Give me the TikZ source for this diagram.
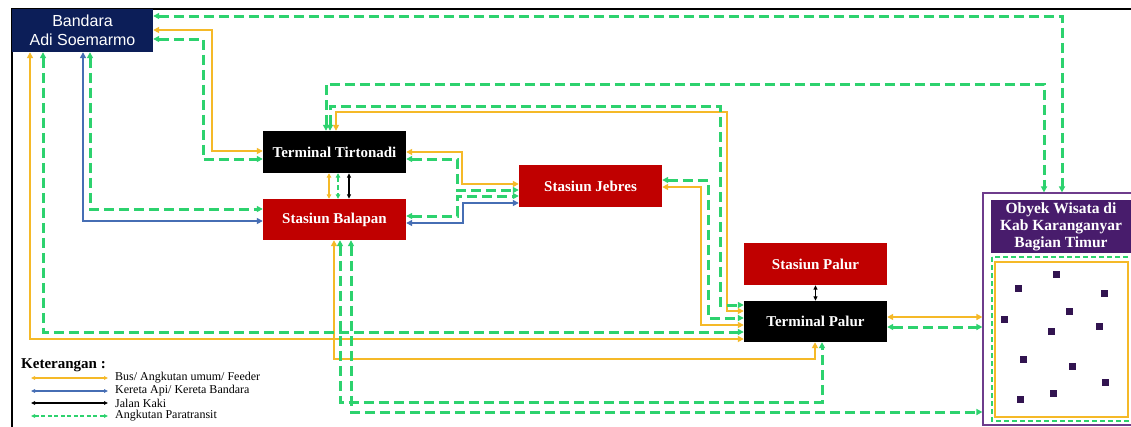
\documentclass[tikz,border=0pt]{standalone}
\usepackage{fontspec}
\setmainfont{Liberation Serif}
\newfontfamily\arialf{Liberation Sans}
\usetikzlibrary{arrows.meta}
\definecolor{yel}{RGB}{245,185,40}
\definecolor{grn}{RGB}{45,210,110}
\definecolor{blu}{RGB}{70,110,180}
\definecolor{navy}{RGB}{12,30,88}
\definecolor{redbox}{RGB}{192,0,0}
\definecolor{purp}{RGB}{72,28,108}
\definecolor{purpedge}{RGB}{110,60,140}
\definecolor{sq}{RGB}{50,20,80}
\begin{document}
\begin{tikzpicture}[x=1pt,y=-1pt,
  >={Triangle[length=6pt,width=6pt]},
  box/.style={minimum width=143pt,minimum height=42pt,inner sep=0pt,text=white,
    font=\fontsize{15}{17}\selectfont\bfseries},
  yl/.style={draw=yel,line width=2.6pt,<->},
  gd/.style={draw=grn,line width=3pt,dash pattern=on 10pt off 5pt,<->},
  bl/.style={draw=blu,line width=2.6pt,<->},
  ylthin/.style={draw=yel,line width=1.6pt,<->,>={Triangle[length=4.5pt,width=4.5pt]}},
  gdthin/.style={draw=grn,line width=1.8pt,dash pattern=on 5pt off 3pt,<->,>={Triangle[length=4.5pt,width=4.5pt]}},
  bk/.style={draw=black,line width=1.3pt,<->,>={Triangle[length=4.5pt,width=4pt]}},
  legtxt/.style={anchor=west,inner sep=0pt,font=\fontsize{12}{12}\selectfont},
  legtip/.style={>={Triangle[length=4pt,width=3.5pt]}}
]
\useasboundingbox (0,0) rectangle (1131,426);
\clip (0,0) rectangle (1131,426);
\fill[white] (0,0) rectangle (1131,426);
\draw[line width=1.8pt] (12,440) -- (12,9) -- (1140,9);

% nodes
\node[fill=navy,minimum width=141pt,minimum height=43pt,inner sep=0pt,text=white,
  font=\arialf\fontsize{16}{19}\selectfont,align=center] (bandara) at (82.5,30.5) {Bandara\\Adi Soemarmo};
\node[box,fill=black] (tirt) at (334.5,152) {Terminal Tirtonadi};
\node[box,fill=redbox,minimum height=41pt] (balapan) at (334.5,219.5) {Stasiun Balapan};
\node[box,fill=redbox] (jebres) at (590.5,186) {Stasiun Jebres};
\node[box,fill=redbox] (spalur) at (815.5,264) {Stasiun Palur};
\node[box,fill=black,minimum height=41pt] (tpalur) at (815.5,321.5) {Terminal Palur};
\node[draw=purpedge,line width=1.2pt,minimum width=150pt,minimum height=232pt,inner sep=0pt] (obyek) at (1058,309) {};
\node[fill=purp,minimum width=140pt,minimum height=53pt,inner sep=0pt,text=white,align=center,
  font=\fontsize{15.5}{17}\selectfont\bfseries] (obhead) at (1061,226.5) {Obyek Wisata di\\Kab Karanganyar\\Bagian Timur};
\draw[grn,line width=1.5pt,dash pattern=on 5pt off 3pt] (992,257) rectangle (1140,421);
\draw[yel,line width=1.4pt] (995,262) rectangle (1128,417);
\foreach \px/\py in {1056/274,1018/288,1104/293,1069/311,1004/319,1099/326,1051/331,1023/359,1072/366,1105/382,1020/399,1053/393}
  \fill[sq] (\px-3.5,\py-3.5) rectangle ++(7,7);

% yellow: bus / angkutan umum / feeder
\draw[yl] (bandara.east |- 0,30) -- (212,30) -- (212,151) -- (tirt.west |- 0,151);
\draw[yl] (bandara.south -| 30,0) -- (30,339) -- (tpalur.west |- 0,339);
\draw[yl] (tirt.east |- 0,152) -- (462,152) -- (462,184) -- (jebres.west |- 0,184);
\draw[yl] (tirt.north -| 336,0) -- (336,112) -- (727,112) -- (727,311) -- (tpalur.west |- 0,311);
\draw[yl] (jebres.east |- 0,187) -- (701,187) -- (701,325) -- (tpalur.west |- 0,325);
\draw[yl] (balapan.south -| 334,0) -- (334,359) -- (815,359) -- (tpalur.south -| 815,0);
\draw[yl] (tpalur.east |- 0,317) -- (obyek.west |- 0,317);
\draw[ylthin] (tirt.south -| 329,0) -- (balapan.north -| 329,0);

% green dashed: angkutan paratransit
\draw[gd] (bandara.east |- 0,16) -- (1062,16) -- (obyek.north -| 1062,0);
\draw[gd] (bandara.east |- 0,39) -- (203,39) -- (203,159) -- (tirt.west |- 0,159);
\draw[gd] (bandara.south -| 43,0) -- (43,332) -- (tpalur.west |- 0,332);
\draw[gd] (bandara.south -| 90,0) -- (90,209) -- (balapan.west |- 0,209);
\draw[gd] (tirt.north -| 326,0) -- (326,84) -- (1044,84) -- (obyek.north -| 1044,0);
\draw[gd] (tirt.north -| 330,0) -- (330,106) -- (720,106) -- (720,305) -- (tpalur.west |- 0,305);
\draw[gd] (tirt.east |- 0,159) -- (457,159) -- (457,190) -- (jebres.west |- 0,190);
\draw[gd] (balapan.east |- 0,216) -- (457,216) -- (457,196) -- (jebres.west |- 0,196);
\draw[gd] (jebres.east |- 0,180) -- (708,180) -- (708,318) -- (tpalur.west |- 0,318);
\draw[gd] (balapan.south -| 340,0) -- (340,402) -- (822,402) -- (tpalur.south -| 822,0);
\draw[gd] (balapan.south -| 351,0) -- (351,412) -- (obyek.west |- 0,412);
\draw[gd] (tpalur.east |- 0,327) -- (obyek.west |- 0,327);
\draw[gdthin] (tirt.south -| 338,0) -- (balapan.north -| 338,0);

% blue: kereta api
\draw[bl] (bandara.south -| 83,0) -- (83,221) -- (balapan.west |- 0,221);
\draw[bl] (balapan.east |- 0,223) -- (463,223) -- (463,203) -- (jebres.west |- 0,203);

% black: jalan kaki
\draw[bk] (tirt.south -| 349,0) -- (balapan.north -| 349,0);
\draw[bk] (spalur.south) -- (tpalur.north);

% legend
\node[anchor=west,inner sep=0pt,font=\fontsize{15}{17}\selectfont\bfseries] (leg) at (21,365) {Keterangan :};
\node[legtxt] (lab1) at (115,378) {Bus/ Angkutan umum/ Feeder};
\node[legtxt] (lab2) at (115,391) {Kereta Api/ Kereta Bandara};
\node[legtxt] (lab3) at (115,403) {Jalan Kaki};
\node[legtxt] (lab4) at (115,416) {Angkutan Paratransit};
\coordinate (la1) at (31,378);
\coordinate (la2) at (31,391);
\coordinate (la3) at (31,403);
\coordinate (la4) at (31,416);
\draw[legtip,draw=yel,line width=1.1pt,<->] (la1) -- ([xshift=-7pt]lab1.west);
\draw[legtip,draw=blu,line width=1.1pt,<->] (la2) -- ([xshift=-7pt]lab2.west);
\draw[legtip,draw=black,line width=1.1pt,<->] (la3) -- ([xshift=-7pt]lab3.west);
\draw[legtip,draw=grn,line width=1.2pt,dash pattern=on 4pt off 2.5pt,<->] (la4) -- ([xshift=-7pt]lab4.west);
\end{tikzpicture}
\end{document}
